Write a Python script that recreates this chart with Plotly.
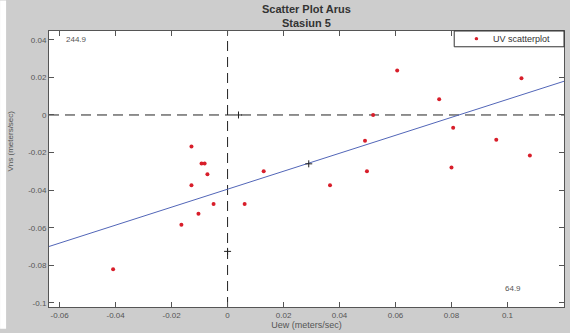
import numpy as np
import plotly.graph_objects as go

# Current components (m/s): east-west (u) and north-south (v)
u_ew = [-0.0409, -0.0165, -0.0129, -0.0104, -0.0072, -0.0093, -0.0082, -0.0050,
        0.0061, 0.0129, -0.0129, 0.0606, 0.0756, 0.0520, 0.0491, 0.0806,
        0.0960, 0.1050, 0.1080, 0.0800, 0.0366, 0.0498]
v_ns = [-0.0821, -0.0584, -0.0374, -0.0526, -0.0316, -0.0258, -0.0258, -0.0474,
        -0.0474, -0.0300, -0.0168, 0.0237, 0.0084, 0.0000, -0.0137, -0.0068,
        -0.0132, 0.0195, -0.0216, -0.0279, -0.0374, -0.0300]

# Black "+" reference markers
ref_u = [0.0039, 0.0290, 0.0000]
ref_v = [0.0000, -0.0260, -0.0726]

# Regression line v = slope * u + intercept
fit_slope = 0.478
fit_intercept = -0.0395

# Axis ticks and labels
x_ticks = [-0.06, -0.04, -0.02, 0, 0.02, 0.04, 0.06, 0.08, 0.1, 0.12]
x_labels = ["-0.06", "-0.04", "-0.02", "0", "0.02", "0.04", "0.06", "0.08", "0.1", "0.12"]
y_ticks = [0.04, 0.02, 0, -0.02, -0.04, -0.06, -0.08, -0.1]
y_labels = ["0.04", "0.02", "0", "-0.02", "-0.04", "-0.06", "-0.08", "-0.1"]

x_range = [-0.0638, 0.1202]
y_range = [-0.1022, 0.0447]

legend_label = "UV scatterplot"

W, H = 570, 333
ML, MR, MT, MB = 49, 5, 31, 22
PW, PH = W - ML - MR, H - MT - MB

FONT = "Liberation Sans, Arial, sans-serif"
GRAY = "#cdcdcd"
RED = "#d81e2a"


def px_x(p):
    """Pixel column -> paper x."""
    return (p - ML) / PW


def px_y(p):
    """Pixel row -> paper y."""
    return (H - MB - p) / PH


fig = go.Figure()

# zero lines
fig.add_trace(go.Scatter(x=x_range, y=[0, 0], mode="lines",
                         line=dict(color="#222", width=1, dash="10px,6px"),
                         showlegend=False, hoverinfo="skip"))
fig.add_trace(go.Scatter(x=[0, 0], y=y_range, mode="lines",
                         line=dict(color="#222", width=1, dash="10px,6px"),
                         showlegend=False, hoverinfo="skip"))

# regression line
fx = np.array(x_range)
fig.add_trace(go.Scatter(x=fx, y=fit_slope * fx + fit_intercept, mode="lines",
                         line=dict(color="#5266b8", width=1),
                         showlegend=False, hoverinfo="skip"))

# reference markers
fig.add_trace(go.Scatter(x=ref_u, y=ref_v, mode="markers",
                         marker=dict(symbol="cross-thin", size=5,
                                     line=dict(color="#222", width=1)),
                         showlegend=False))

# scatter points
fig.add_trace(go.Scatter(x=u_ew, y=v_ns, mode="markers", name=legend_label,
                         marker=dict(color=RED, size=4), showlegend=False))

axis_common = dict(showgrid=False, zeroline=False, showline=True, linecolor="#555",
                   linewidth=1, mirror="ticks", ticks="inside", ticklen=5,
                   tickcolor="#555", tickfont=dict(family=FONT, size=8, color="#555"))

fig.update_xaxes(range=x_range, tickvals=x_ticks, ticktext=x_labels,
                 title=dict(text="Uew (meters/sec)", standoff=2,
                            font=dict(family=FONT, size=9, color="#555")),
                 **axis_common)
fig.update_yaxes(range=y_range, tickvals=y_ticks, ticktext=y_labels, **axis_common)

fig.add_annotation(x=x_range[0] + 0.0052, y=0.04, text="244.9", showarrow=False,
                   xanchor="left", yanchor="middle",
                   font=dict(family=FONT, size=8, color="#555"))
fig.add_annotation(x=0.1018, y=-0.0926, text="64.9", showarrow=False,
                   xanchor="center", yanchor="middle",
                   font=dict(family=FONT, size=8, color="#555"))

# y-axis label
fig.add_annotation(xref="paper", yref="paper", x=px_x(10), y=px_y(143),
                   xanchor="center", yanchor="middle",
                   text="Vns (meters/sec)", textangle=-90, showarrow=False,
                   font=dict(family=FONT, size=8, color="#555"))

# title (two centred lines above the axes)
fig.add_annotation(xref="paper", yref="paper", x=0.5, y=px_y(1),
                   xanchor="center", yanchor="top",
                   text="<b>Scatter Plot Arus<br>Stasiun 5</b>", showarrow=False,
                   font=dict(family=FONT, size=11, color="#333"))

# compact boxed legend in the top-right corner
fig.add_shape(type="rect", xref="paper", yref="paper", x0=px_x(455), x1=px_x(565),
              y0=px_y(47), y1=px_y(31), fillcolor="white",
              line=dict(color="#333", width=1), layer="above")
fig.add_shape(type="circle", xref="paper", yref="paper", x0=px_x(475.5), x1=px_x(479),
              y0=px_y(40.5), y1=px_y(37), fillcolor=RED, line=dict(width=0), layer="above")
fig.add_annotation(xref="paper", yref="paper", x=px_x(492), y=px_y(39),
                   xanchor="left", yanchor="middle",
                   text=legend_label, showarrow=False,
                   font=dict(family=FONT, size=9, color="#333"))

# thin white strip on the far left edge
fig.add_shape(type="rect", xref="paper", yref="paper", x0=px_x(0), x1=px_x(6),
              y0=px_y(H), y1=px_y(0), fillcolor="white", line=dict(width=0),
              layer="below")

fig.update_layout(
    width=W, height=H,
    margin=dict(l=ML, r=MR, t=MT, b=MB),
    paper_bgcolor=GRAY, plot_bgcolor="white",
    showlegend=False,
)

fig.write_html("out.html")
